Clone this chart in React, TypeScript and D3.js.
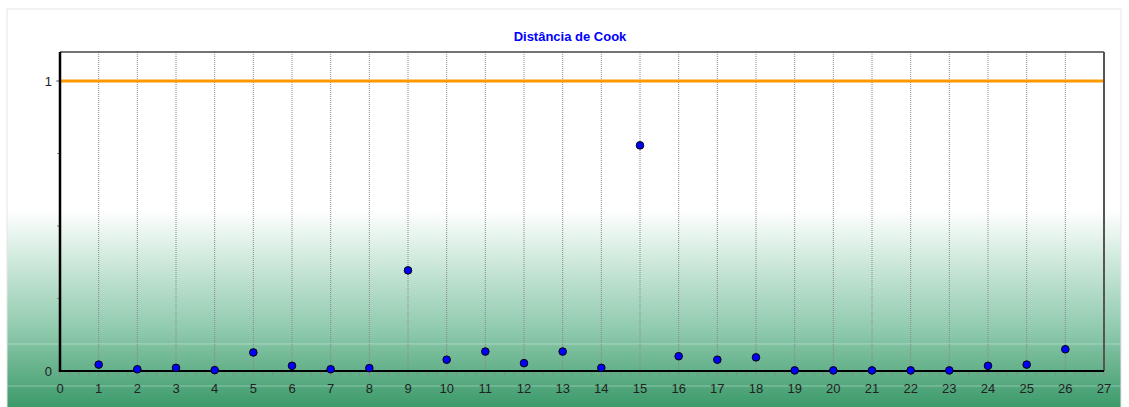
import React from "react";
import * as d3 from "d3";

const observations = [1,2,3,4,5,6,7,8,9,10,11,12,13,14,15,16,17,18,19,20,21,22,23,24,25,26];
const cookDistance = [0.022,0.006,0.011,0.003,0.064,0.018,0.006,0.01,0.347,0.039,0.067,0.027,0.067,0.011,0.778,0.051,0.039,0.047,0.002,0.002,0.002,0.002,0.002,0.018,0.022,0.075];
const xTicks = d3.range(0, 28);
const yTicks = [0, 1];
const threshold = 1;
const title = "Distância de Cook";

export default function App() {
  const W = 1129, H = 407;
  const left = 60, right = 1104, top = 52, bottom = 371;
  const x = d3.scaleLinear().domain([0, 27]).range([left, right]);
  const y = d3.scaleLinear().domain([0, 1.1]).range([bottom, top]);
  const minorX = d3.range(0, 27.001, 0.25);
  const minorY = d3.range(0, 1.1, 0.25);
  return (
    <svg width={W} height={H} style={{ position: "absolute", left: 0, top: 0, fontFamily: "Liberation Sans, Arial, sans-serif" }}>
      <defs>
        <linearGradient id="bg" x1="0" y1="0" x2="0" y2={H} gradientUnits="userSpaceOnUse">
          <stop offset={210 / H} stopColor="#ffffff" />
          <stop offset={260 / H} stopColor="#cfe9dc" />
          <stop offset={330 / H} stopColor="#8fcaad" />
          <stop offset={1} stopColor="#3c9a6a" />
        </linearGradient>
      </defs>
      <rect x={0} y={0} width={W} height={H} fill="#ffffff" />
      <rect x={7} y={9} width={1114} height={H} fill="url(#bg)" stroke="#e6e6e6" strokeWidth={1} />
      <line x1={7} x2={1121} y1={344} y2={344} stroke="#ffffff" strokeOpacity={0.35} />
      <line x1={7} x2={1121} y1={386} y2={386} stroke="#ffffff" strokeOpacity={0.35} />
      <text x={570} y={41} textAnchor="middle" fill="#0000ff" fontWeight="bold" fontSize={13}>{title}</text>
      {observations.map((o) => (
        <line key={"g" + o} x1={x(o)} x2={x(o)} y1={top} y2={bottom} stroke="#888" strokeDasharray="1,1" strokeWidth={1} />
      ))}
      <line x1={left} x2={right} y1={y(threshold)} y2={y(threshold)} stroke="#ff9900" strokeWidth={3} />
      <line x1={left} x2={right} y1={top} y2={top} stroke="#444" strokeWidth={1.5} />
      <line x1={right} x2={right} y1={top} y2={bottom} stroke="#555" strokeWidth={2} />
      {minorX.map((v, i) => (
        <line key={"mx" + i} x1={x(v)} x2={x(v)} y1={bottom} y2={bottom + (Number.isInteger(v) ? 6 : 4)} stroke="#888" strokeWidth={1} />
      ))}
      {minorY.map((v, i) => (
        <line key={"my" + i} x1={left - 3} x2={left} y1={y(v)} y2={y(v)} stroke="#888" strokeWidth={1} />
      ))}
      <line x1={left - 4} x2={left} y1={y(1)} y2={y(1)} stroke="#888" strokeWidth={1} />
      <line x1={left} x2={left} y1={top} y2={bottom + 1} stroke="#000" strokeWidth={2.5} />
      <line x1={left} x2={right} y1={bottom} y2={bottom} stroke="#000" strokeWidth={2} />
      {xTicks.map((t) => (
        <text key={"xt" + t} x={x(t)} y={393} textAnchor="middle" fontSize={13} fill="#222">{t}</text>
      ))}
      {yTicks.map((t) => (
        <text key={"yt" + t} x={left - 8} y={y(t) + 5} textAnchor="end" fontSize={13} fill="#222">{t}</text>
      ))}
      {observations.map((o, i) => (
        <circle key={"p" + o} cx={x(o)} cy={y(cookDistance[i])} r={3.8} fill="#0000ff" stroke="#000" strokeWidth={1} />
      ))}
    </svg>
  );
}
